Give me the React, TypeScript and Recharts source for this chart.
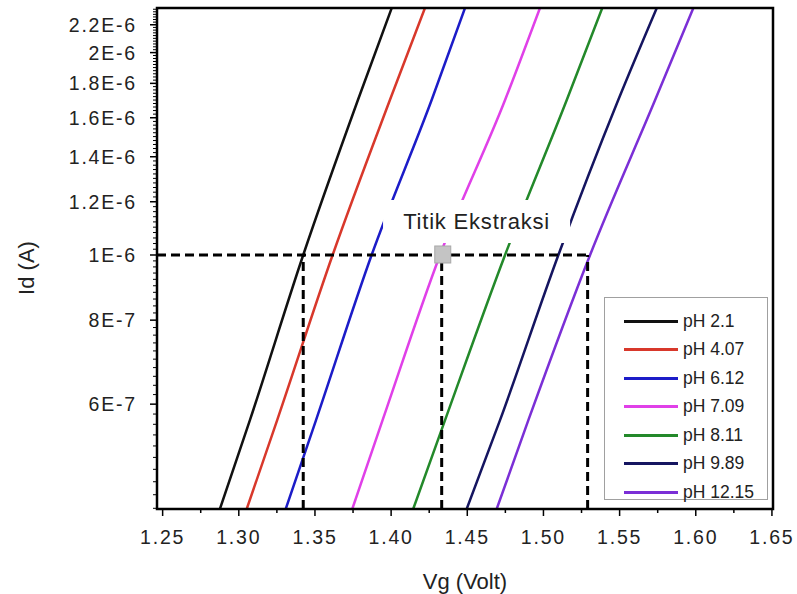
import { Legend, Line, LineChart, ReferenceArea, ReferenceDot, ReferenceLine, XAxis, YAxis } from 'recharts';

const idLevels = [4.19e-7, 5.68e-7, 1e-6, 1.7e-6, 2.33e-6];

// Vg (V) of each curve at those Id levels
const vgPh2_1 = [1.2876, 1.3073, 1.3423, 1.3782, 1.4004];
const vgPh4_07 = [1.3052, 1.3252, 1.3616, 1.3992, 1.4222];
const vgPh6_12 = [1.3308, 1.3507, 1.3872, 1.4266, 1.4485];
const vgPh7_09 = [1.3745, 1.3944, 1.4321, 1.4748, 1.4977];
const vgPh8_11 = [1.4145, 1.4354, 1.4748, 1.5153, 1.5386];
const vgPh9_89 = [1.4496, 1.4715, 1.5098, 1.5491, 1.5744];
const vgPh12_15 = [1.4693, 1.4901, 1.5306, 1.5733, 1.5984];

const seriesNames = ['pH 2.1', 'pH 4.07', 'pH 6.12', 'pH 7.09', 'pH 8.11', 'pH 9.89', 'pH 12.15'];
const seriesVg = [vgPh2_1, vgPh4_07, vgPh6_12, vgPh7_09, vgPh8_11, vgPh9_89, vgPh12_15];
const seriesColors = ['#111111', '#d8382b', '#1c1cc8', '#e040e8', '#23892a', '#151560', '#7b2fd6'];

// extraction points at Id = 1E-6
const extractionId = 1e-6;
const extractionVg = [1.3423, 1.4332, 1.529];
const markerVg = 1.4339;

const xMajorTicks = [1.25, 1.3, 1.35, 1.4, 1.45, 1.5, 1.55, 1.6, 1.65];
const xTickLabels = ['1.25', '1.30', '1.35', '1.40', '1.45', '1.50', '1.55', '1.60', '1.65'];
const xMinorTicks = [1.275, 1.325, 1.375, 1.425, 1.475, 1.525, 1.575, 1.625];

const yMajorTicks = [6e-7, 8e-7, 1e-6, 1.2e-6, 1.4e-6, 1.6e-6, 1.8e-6, 2e-6, 2.2e-6];
const yTickLabels = ['6E-7', '8E-7', '1E-6', '1.2E-6', '1.4E-6', '1.6E-6', '1.8E-6', '2E-6', '2.2E-6'];

const xDomain = [1.2463, 1.6507];
const yDomain = [4.19e-7, 2.33e-6];

const font = '"Liberation Sans", Arial, sans-serif';

const series = seriesNames.map((name, i) => ({
  name,
  color: seriesColors[i],
  data: seriesVg[i].map((vg, j) => ({ vg, id: idLevels[j] })),
}));

// minor y ticks every 2E-8
const yMinorTicks: number[] = [];
for (let k = 21; k <= 116; k++) {
  const v = k * 2e-8;
  if (!yMajorTicks.some((t) => Math.abs(t - v) < 1e-12)) yMinorTicks.push(v);
}
const yAllTicks = [...yMinorTicks, ...yMajorTicks].sort((a, b) => a - b);
const xAllTicks = [...xMinorTicks, ...xMajorTicks].sort((a, b) => a - b);

function XTick(props: any) {
  const { x, y, payload } = props;
  const idx = xMajorTicks.findIndex((t) => Math.abs(t - payload.value) < 1e-6);
  if (idx < 0) return <line x1={x} x2={x} y1={y} y2={y + 4} stroke="#000" strokeWidth={1.5} />;
  return (
    <g>
      <line x1={x} x2={x} y1={y} y2={y + 7} stroke="#000" strokeWidth={1.5} />
      <text x={x} y={y + 35} textAnchor="middle" fontSize={19.5} fill="#222" fontFamily={font} letterSpacing={1.8}>
        {xTickLabels[idx]}
      </text>
    </g>
  );
}

function YTick(props: any) {
  const { x, y, payload } = props;
  const v = payload.value;
  const idx = yMajorTicks.findIndex((t) => Math.abs(t - v) < v * 1e-6);
  if (idx < 0) return <line x1={x - 4} x2={x} y1={y} y2={y} stroke="#000" strokeWidth={1} />;
  return (
    <g>
      <line x1={x - 7} x2={x} y1={y} y2={y} stroke="#000" strokeWidth={1.5} />
      <text x={x - 20} y={y + 7} textAnchor="end" fontSize={19.5} fill="#222" fontFamily={font} letterSpacing={1.8}>
        {yTickLabels[idx]}
      </text>
    </g>
  );
}

function LegendBox() {
  return (
    <div
      style={{
        width: 164,
        height: 203,
        border: '1px solid #a0a0a0',
        background: '#fff',
        boxSizing: 'border-box',
        paddingTop: 9,
        fontFamily: font,
      }}
    >
      {series.map((s) => (
        <div key={s.name} style={{ display: 'flex', alignItems: 'center', height: 28.5 }}>
          <div style={{ width: 54, height: 3, background: s.color, marginLeft: 19, marginRight: 5 }} />
          <span style={{ fontSize: 17.5, color: '#222' }}>{s.name}</span>
        </div>
      ))}
    </div>
  );
}

export default function App() {
  return (
    <div style={{ position: 'absolute', left: 0, top: 0, width: 797, height: 594, background: '#fff' }}>
      <LineChart width={797} height={594} margin={{ top: 8, right: 24, bottom: 0, left: 0 }}>
        <XAxis
          type="number"
          dataKey="vg"
          domain={xDomain}
          allowDataOverflow
          ticks={xAllTicks}
          interval={0}
          tick={<XTick />}
          tickLine={false}
          tickSize={0}
          tickMargin={0}
          height={85}
          axisLine={{ stroke: '#000', strokeWidth: 2 }}
          label={{ value: 'Vg (Volt)', position: 'insideBottom', offset: 5, fontSize: 22, fill: '#222', fontFamily: font }}
        />
        <YAxis
          type="number"
          dataKey="id"
          scale="log"
          domain={yDomain}
          allowDataOverflow
          ticks={yAllTicks}
          interval={0}
          tick={<YTick />}
          tickLine={false}
          tickSize={0}
          tickMargin={0}
          width={157}
          axisLine={{ stroke: '#000', strokeWidth: 2 }}
          label={() => (
            <text
              x={26}
              y={268}
              transform="rotate(-90 26 268)"
              textAnchor="middle"
              dominantBaseline="central"
              fontSize={22}
              fill="#222"
              fontFamily={font}
            >
              Id (A)
            </text>
          )}
        />
        {series.map((s) => (
          <Line
            key={s.name}
            data={s.data}
            dataKey="id"
            name={s.name}
            type="monotone"
            stroke={s.color}
            strokeWidth={2.5}
            dot={false}
            isAnimationActive={false}
          />
        ))}
        <ReferenceLine
          segment={[
            { x: xDomain[0], y: extractionId },
            { x: extractionVg[2], y: extractionId },
          ]}
          stroke="#000"
          strokeWidth={3}
          strokeDasharray="9 5"
          zIndex={1400}
        />
        {extractionVg.map((vg) => (
          <ReferenceLine
            key={vg}
            segment={[
              { x: vg, y: yDomain[0] },
              { x: vg, y: extractionId },
            ]}
            stroke="#000"
            strokeWidth={3}
            strokeDasharray="9 5"
            zIndex={1400}
          />
        ))}
        <ReferenceArea
          x1={1.3947}
          x2={1.5175}
          y1={1.042e-6}
          y2={1.207e-6}
          fill="#fff"
          fillOpacity={1}
          stroke="none"
          zIndex={1500}
          label={{ value: 'Titik Ekstraksi', position: 'center', fontSize: 22, fill: '#222', fontFamily: font, letterSpacing: 0.8 }}
        />
        <ReferenceDot
          x={markerVg}
          y={extractionId}
          zIndex={1600}
          shape={(p: any) => (
            <rect x={p.cx - 8} y={p.cy - 9} width={16} height={17} fill="#c4c4c4" stroke="#a8a8a8" strokeWidth={1} />
          )}
        />
        <ReferenceArea
          x1={xDomain[0]}
          x2={xDomain[1]}
          y1={yDomain[0]}
          y2={yDomain[1]}
          fill="none"
          stroke="#000"
          strokeWidth={2.5}
          zIndex={1700}
        />
        <Legend
          layout="vertical"
          align="center"
          verticalAlign="middle"
          content={() => <LegendBox />}
          wrapperStyle={{ position: 'absolute', left: 604, top: 297, width: 164, height: 203 }}
        />
      </LineChart>
    </div>
  );
}
